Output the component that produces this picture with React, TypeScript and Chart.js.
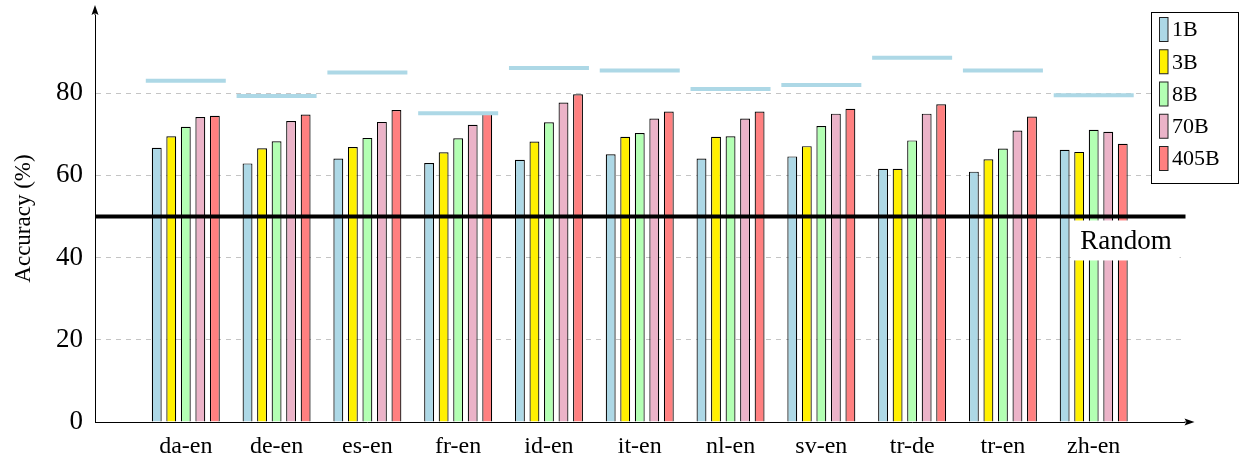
import React, { useEffect, useRef } from "react";
import { Chart, registerables } from "chart.js";

Chart.register(...registerables);

const categories = ["da-en", "de-en", "es-en", "fr-en", "id-en", "it-en", "nl-en", "sv-en", "tr-de", "tr-en", "zh-en"];
const seriesNames = ["1B", "3B", "8B", "70B", "405B"];
const series1B = [66.7, 62.9, 64.1, 63.0, 63.8, 65.1, 64.1, 64.6, 61.6, 60.9, 66.2];
const series3B = [69.5, 66.6, 66.9, 65.6, 68.2, 69.4, 69.4, 67.1, 61.6, 63.9, 65.7];
const series8B = [71.8, 68.3, 69.1, 69.0, 72.9, 70.3, 69.5, 72.0, 68.5, 66.5, 71.1];
const series70B = [74.2, 73.2, 73.0, 72.3, 77.7, 73.8, 73.8, 75.0, 75.0, 70.9, 70.6];
const series405B = [74.5, 74.8, 75.9, 75.4, 79.7, 75.5, 75.5, 76.2, 77.3, 74.3, 67.7];
const referenceValues = [83.0, 79.3, 85.0, 75.1, 86.1, 85.5, 81.0, 82.0, 88.6, 85.5, 79.5];
const randomBaseline = 50;
const randomLabel = "Random";
const yAxisTitle = "Accuracy (%)";
const yMin = 0;
const yMax = 99;
const yTickValues = [0, 20, 40, 60, 80];

const seriesColors = ["#add8e6", "#fff000", "#b3ffb3", "#ebb3c8", "#ff8080"];
const refColor = "#add8e6";
const FONT = "'Liberation Serif', 'Times New Roman', serif";

const pad = (arr: (number | null)[]) => [null, ...arr, null];

const overlayPlugin = {
  id: "overlay",
  afterDatasetsDraw(chart: any) {
    const { ctx, chartArea, scales } = chart;
    const y = scales.y;
    const yPix = y.getPixelForValue(randomBaseline);
    ctx.save();
    ctx.strokeStyle = "#000";
    ctx.lineWidth = 4;
    ctx.beginPath();
    ctx.moveTo(chartArea.left, yPix);
    ctx.lineTo(chartArea.right + 1, yPix);
    ctx.stroke();
    const bw = 107;
    const bh = 40;
    const bx = chartArea.right - 112;
    const by = yPix + 4;
    ctx.fillStyle = "#fff";
    ctx.fillRect(bx, by, bw, bh);
    ctx.fillStyle = "#000";
    ctx.font = `27px ${FONT}`;
    ctx.textAlign = "center";
    ctx.textBaseline = "middle";
    ctx.fillText(randomLabel, bx + bw / 2, by + bh / 2 + 1);
    ctx.restore();
  },
  afterDraw(chart: any) {
    const { ctx, chartArea } = chart;
    ctx.save();
    ctx.fillStyle = "#000";
    ctx.strokeStyle = "#000";
    ctx.lineWidth = 1;
    const ax = chartArea.left;
    ctx.beginPath();
    ctx.moveTo(ax, chartArea.top);
    ctx.lineTo(ax, chartArea.top - 4);
    ctx.stroke();
    ctx.beginPath();
    ctx.moveTo(ax, chartArea.top - 10);
    ctx.lineTo(ax - 3.5, chartArea.top);
    ctx.lineTo(ax, chartArea.top - 2);
    ctx.lineTo(ax + 3.5, chartArea.top);
    ctx.closePath();
    ctx.fill();
    const ay = chartArea.bottom;
    const rx = chartArea.right + 4;
    ctx.beginPath();
    ctx.moveTo(chartArea.right, ay);
    ctx.lineTo(rx - 2, ay);
    ctx.stroke();
    ctx.beginPath();
    ctx.moveTo(rx + 6, ay);
    ctx.lineTo(rx - 4, ay - 3.5);
    ctx.lineTo(rx - 2, ay);
    ctx.lineTo(rx - 4, ay + 3.5);
    ctx.closePath();
    ctx.fill();

    const lx = 1151.5;
    const ly = 12.5;
    const lw = 87;
    const lh = 171;
    ctx.fillStyle = "#fff";
    ctx.fillRect(lx, ly, lw, lh);
    ctx.strokeStyle = "#000";
    ctx.lineWidth = 1;
    ctx.strokeRect(lx, ly, lw, lh);
    ctx.font = `22px ${FONT}`;
    ctx.textAlign = "left";
    ctx.textBaseline = "middle";
    seriesNames.forEach((name, i) => {
      const cy = 29.5 + i * 32.25;
      ctx.fillStyle = seriesColors[i];
      ctx.fillRect(1159.5, cy - 12, 8.5, 24);
      ctx.strokeStyle = "#222";
      ctx.strokeRect(1159.5, cy - 12, 8.5, 24);
      ctx.fillStyle = "#000";
      ctx.fillText(name, 1172, cy + 1);
    });
    ctx.restore();
  },
};

export default function App() {
  const ref = useRef<HTMLCanvasElement | null>(null);
  useEffect(() => {
    if (!ref.current) return;
    const allSeries = [series1B, series3B, series8B, series70B, series405B];
    const chart = new Chart(ref.current, {
      type: "bar",
      data: {
        labels: ["", ...categories, ""],
        datasets: [
          {
            type: "line",
            label: "reference",
            data: pad(referenceValues),
            showLine: false,
            pointStyle: "line",
            pointRadius: 40,
            pointBorderWidth: 4,
            pointBorderColor: refColor,
            pointBackgroundColor: refColor,
            borderColor: refColor,
            order: -1,
          } as any,
          ...allSeries.map((s, i) => ({
            type: "bar",
            label: seriesNames[i],
            data: pad(s),
            backgroundColor: seriesColors[i],
            borderColor: "#000",
            borderWidth: 1.2,
            categoryPercentage: 0.8,
            barPercentage: 0.68,
            order: 0,
          })),
        ],
      },
      options: {
        responsive: false,
        animation: false,
        devicePixelRatio: 1,
        layout: { autoPadding: false, padding: { top: 15, right: 57.5, bottom: 0, left: 0 } },
        plugins: {
          legend: { display: false },
          tooltip: { enabled: false },
        },
        scales: {
          x: {
            type: "category",
            offset: false,
            grid: { display: false, drawTicks: false, offset: false },
            border: { display: true, color: "#000", width: 1 },
            ticks: {
              autoSkip: false,
              maxRotation: 0,
              padding: 10,
              color: "#000",
              font: { family: FONT, size: 24 },
            },
            afterFit: (scale: any) => {
              scale.height = 46;
              scale.paddingLeft = 0;
              scale.paddingRight = 0;
            },
          },
          y: {
            min: yMin,
            max: yMax,
            afterBuildTicks: (scale: any) => {
              scale.ticks = yTickValues.map((v) => ({ value: v }));
            },
            ticks: {
              padding: 12,
              color: "#000",
              font: { family: FONT, size: 27 },
            },
            grid: {
              drawTicks: false,
              color: (c: any) => (c.tick && c.tick.value === 0 ? "rgba(0,0,0,0)" : "#c4c4c4"),
              lineWidth: 1,
            },
            border: { display: true, color: "#000", width: 1, dash: [5, 5] },
            title: {
              display: true,
              text: yAxisTitle,
              color: "#000",
              font: { family: FONT, size: 23 },
              padding: { top: 10, bottom: 0 },
            },
            afterFit: (scale: any) => {
              scale.width = 95;
              scale.paddingTop = 0;
              scale.paddingBottom = 0;
            },
          },
        },
      },
      plugins: [overlayPlugin],
    } as any);
    return () => chart.destroy();
  }, []);
  return (
    <div style={{ position: "absolute", left: 0, top: 0, width: 1242, height: 468, background: "#fff" }}>
      <canvas ref={ref} width={1242} height={468} />
    </div>
  );
}
